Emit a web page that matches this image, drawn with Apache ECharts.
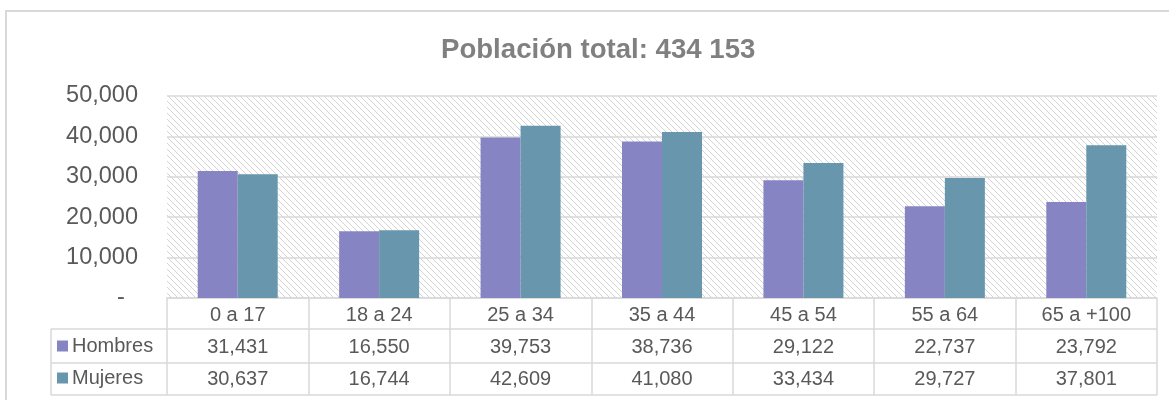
<!DOCTYPE html>
<html>
<head>
<meta charset="utf-8">
<script src="https://cdn.jsdelivr.net/npm/echarts@6/dist/echarts.min.js"></script>
<style>
    html, body { margin: 0; padding: 0; background: #fff; }
    #main { width: 1169px; height: 400px; }
</style>
</head>
<body>
<div id="main"></div>
<script>
var categories = ['0 a 17', '18 a 24', '25 a 34', '35 a 44', '45 a 54', '55 a 64', '65 a +100'];
var hombres = [31431, 16550, 39753, 38736, 29122, 22737, 23792];
var mujeres = [30637, 16744, 42609, 41080, 33434, 29727, 37801];
var yTicks = [0, 10000, 20000, 30000, 40000, 50000];

var FONT = "'Liberation Sans', Arial, sans-serif";
var GRID_LINE = '#d9d9d9';

function fmt(v) {
    return v.toLocaleString('en-US');
}

// fondo rayado del area de trazado
function hatch() {
    var c = document.createElement('canvas');
    c.width = 6;
    c.height = 6;
    var ctx = c.getContext('2d');
    ctx.fillStyle = '#ffffff';
    ctx.fillRect(0, 0, 6, 6);
    for (var i = 0; i < 6; i++) {
        ctx.fillStyle = '#d4d4d4';
        ctx.fillRect(i, i, 1, 1);
    }
    return c;
}

var chart = echarts.init(document.getElementById('main'));

// lineas de la tabla de datos (bajo el eje x)
var tableLines = [];
[329, 363, 395].forEach(function (y) {
    tableLines.push({
        type: 'line', silent: true,
        shape: { x1: 51, y1: y, x2: 1157, y2: y },
        style: { stroke: GRID_LINE, lineWidth: 1.5 }
    });
});
tableLines.push({
    type: 'line', silent: true,
    shape: { x1: 51, y1: 329, x2: 51, y2: 395 },
    style: { stroke: GRID_LINE, lineWidth: 1.5 }
});
// marco exterior
tableLines.push({
    type: 'rect', silent: true, z: -1,
    shape: { x: 6, y: 11, width: 1200, height: 420 },
    style: { fill: null, stroke: GRID_LINE, lineWidth: 2 }
});

function legendRow(name, top) {
    return {
        orient: 'vertical',
        left: 57,
        top: top,
        itemWidth: 11,
        itemHeight: 11,
        itemGap: 0,
        icon: 'rect',
        selectedMode: false,
        padding: 0,
        textStyle: { fontFamily: FONT, fontSize: 20, color: '#595959', padding: [0, 0, 0, -1] },
        data: [name]
    };
}

var option = {
    animation: false,
    backgroundColor: '#ffffff',
    textStyle: { fontFamily: FONT },
    title: {
        text: 'Población total: 434 153',
        left: 436,
        top: 31,
        textStyle: { fontFamily: FONT, fontSize: 27.6, fontWeight: 'bold', color: '#808080' }
    },
    legend: [legendRow('Hombres', 336), legendRow('Mujeres', 368)],
    grid: {
        left: 167,
        right: 12,
        top: 96,
        bottom: 102,
        show: true,
        borderWidth: 0,
        backgroundColor: { image: hatch(), repeat: 'repeat' }
    },
    xAxis: {
        type: 'category',
        data: categories,
        axisLine: { lineStyle: { color: GRID_LINE, width: 1.5 } },
        axisTick: { show: true, length: 97, lineStyle: { color: GRID_LINE, width: 1.5 } },
        axisLabel: {
            margin: 1,
            interval: 0,
            fontFamily: FONT,
            fontSize: 20,
            color: '#595959',
            lineHeight: 32,
            formatter: function (val, idx) {
                return val + '\n' + fmt(hombres[idx]) + '\n' + fmt(mujeres[idx]);
            }
        }
    },
    yAxis: {
        type: 'value',
        min: yTicks[0],
        max: yTicks[yTicks.length - 1],
        interval: 10000,
        axisLine: { show: false },
        axisTick: { show: false },
        splitLine: { lineStyle: { color: GRID_LINE, width: 1.5 } },
        axisLabel: {
            margin: 29,
            fontFamily: FONT,
            fontSize: 23.5,
            color: '#595959',
            formatter: function (v) {
                return v === 0 ? '-  ' : fmt(v);
            }
        }
    },
    series: [
        {
            name: 'Hombres',
            type: 'bar',
            data: hombres,
            barWidth: 40,
            barGap: 0,
            itemStyle: { color: '#8784c4' }
        },
        {
            name: 'Mujeres',
            type: 'bar',
            data: mujeres,
            barWidth: 40,
            itemStyle: { color: '#6796ad' }
        }
    ],
    graphic: tableLines
};

chart.setOption(option);
</script>
</body>
</html>
